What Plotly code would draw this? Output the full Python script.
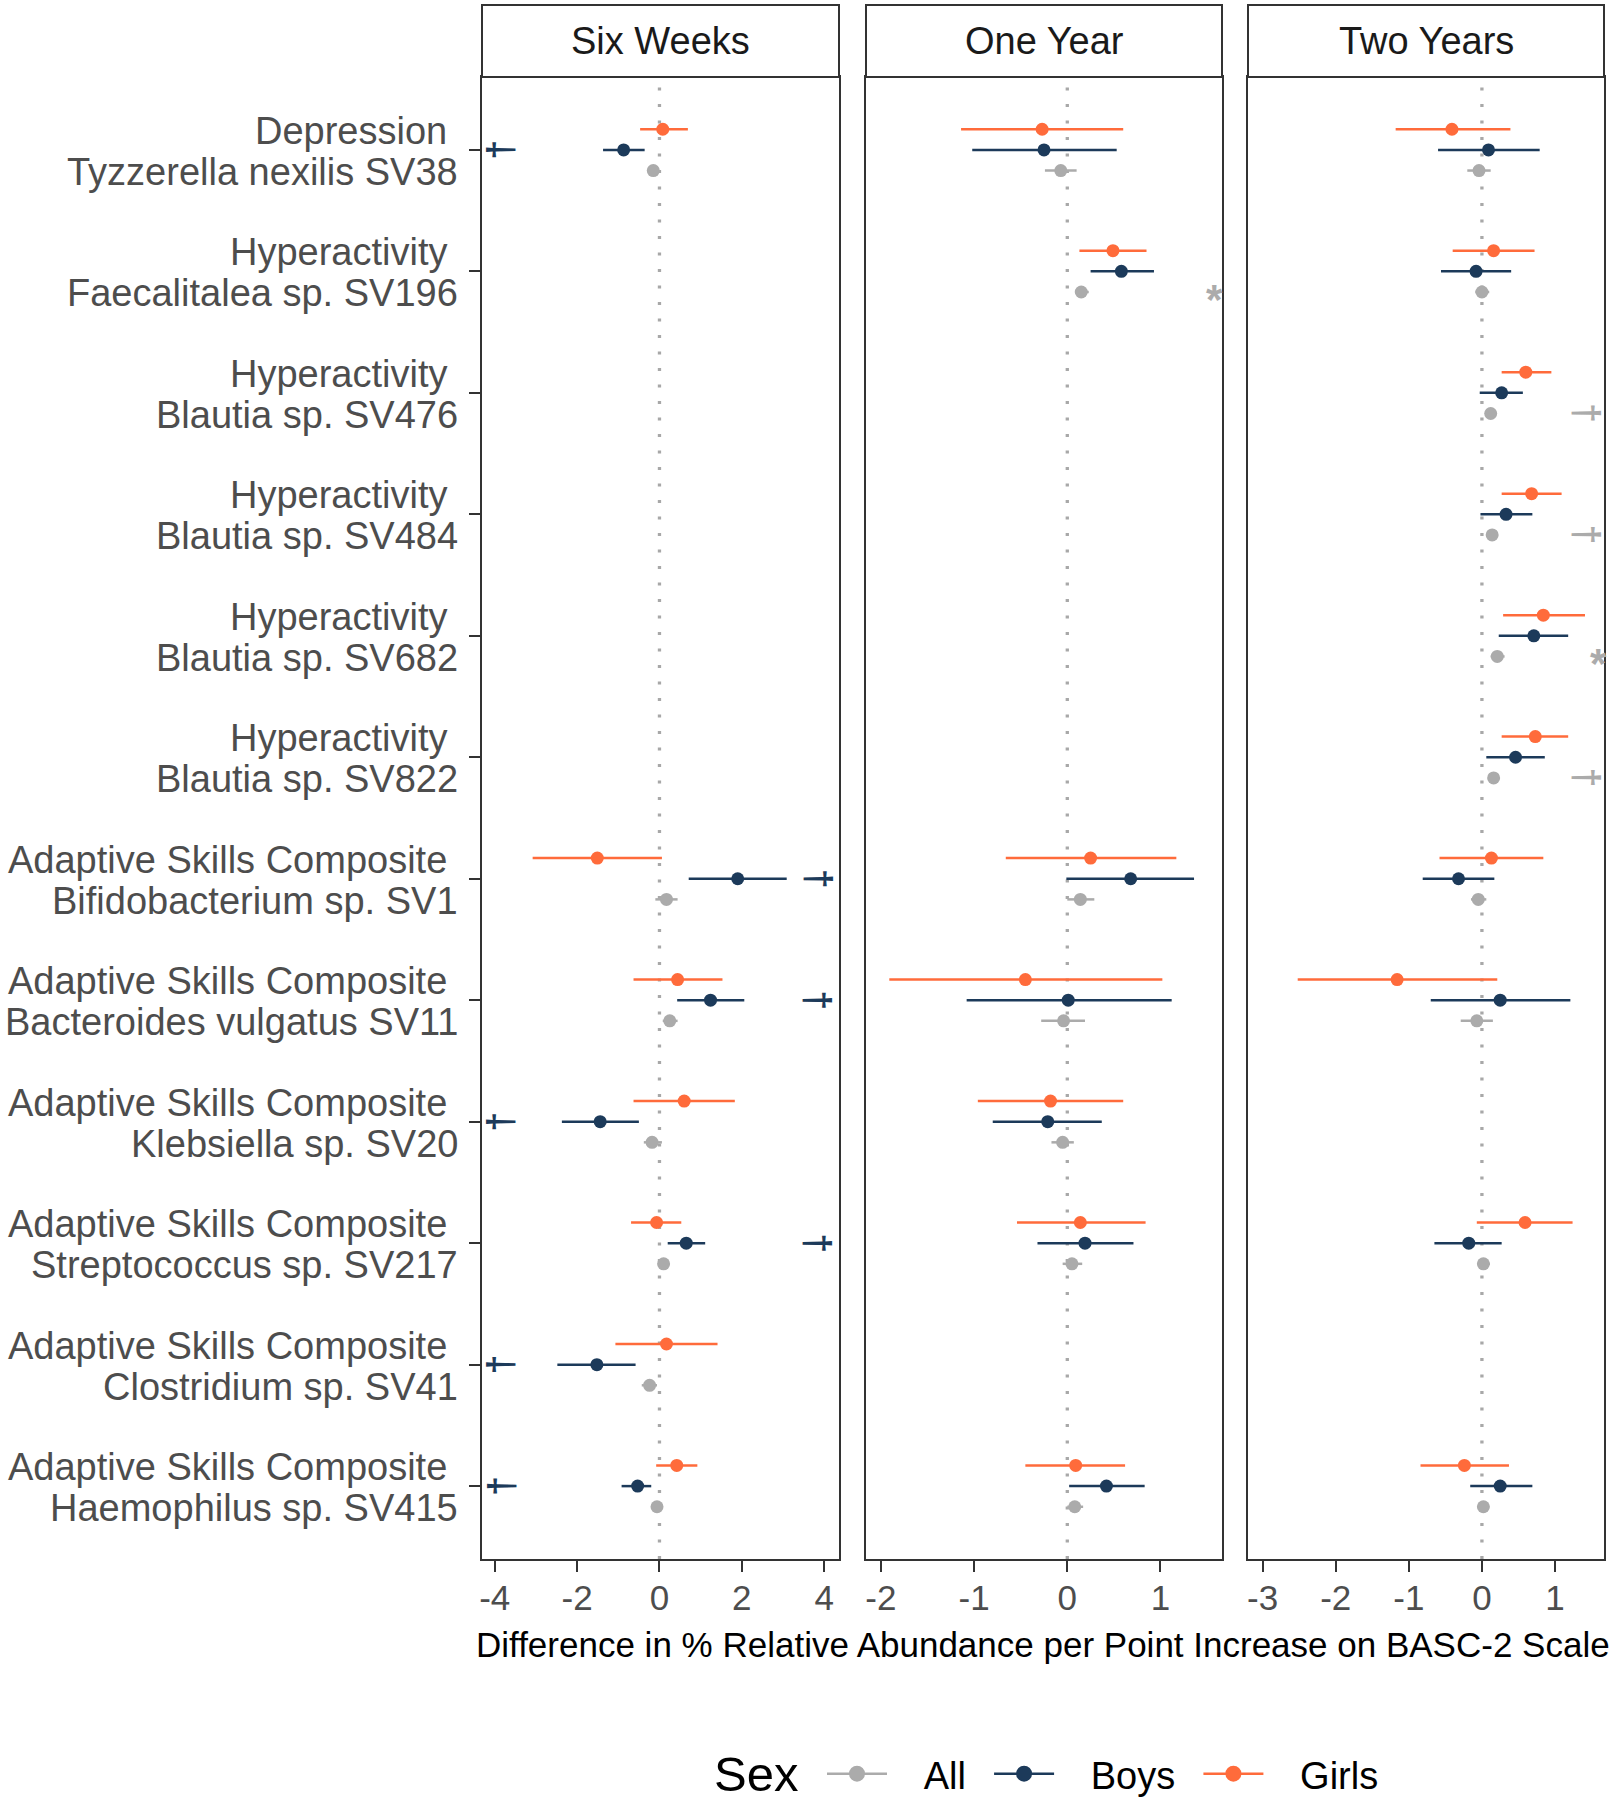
import plotly.graph_objects as go

# ---------------- data ----------------
panels = ["Six Weeks", "One Year", "Two Years"]
row_outcome = ["Depression"] + ["Hyperactivity"] * 5 + ["Adaptive Skills Composite"] * 6
row_taxon = [
    "Tyzzerella nexilis SV38",
    "Faecalitalea sp. SV196",
    "Blautia sp. SV476",
    "Blautia sp. SV484",
    "Blautia sp. SV682",
    "Blautia sp. SV822",
    "Bifidobacterium sp. SV1",
    "Bacteroides vulgatus SV11",
    "Klebsiella sp. SV20",
    "Streptococcus sp. SV217",
    "Clostridium sp. SV41",
    "Haemophilus sp. SV415",
]
rows = list(range(1, 13))
N = None

# Six Weeks
sw_girls_est = [0.08, N, N, N, N, N, -1.51, 0.44, 0.60, -0.07, 0.17, 0.42]
sw_girls_lo = [-0.47, N, N, N, N, N, -3.08, -0.63, -0.63, -0.69, -1.07, -0.08]
sw_girls_hi = [0.69, N, N, N, N, N, 0.06, 1.53, 1.83, 0.53, 1.41, 0.92]
sw_boys_est = [-0.87, N, N, N, N, N, 1.90, 1.24, -1.44, 0.65, -1.52, -0.53]
sw_boys_lo = [-1.37, N, N, N, N, N, 0.71, 0.43, -2.37, 0.20, -2.48, -0.92]
sw_boys_hi = [-0.36, N, N, N, N, N, 3.09, 2.06, -0.50, 1.11, -0.58, -0.20]
sw_all_est = [-0.15, N, N, N, N, N, 0.17, 0.25, -0.18, 0.10, -0.24, -0.06]
sw_all_lo = [-0.25, N, N, N, N, N, -0.10, 0.08, -0.38, 0.02, -0.43, -0.12]
sw_all_hi = [-0.05, N, N, N, N, N, 0.44, 0.44, 0.06, 0.18, -0.06, 0.00]

# One Year
oy_girls_est = [-0.27, 0.49, N, N, N, N, 0.25, -0.45, -0.18, 0.14, N, 0.09]
oy_girls_lo = [-1.14, 0.13, N, N, N, N, -0.66, -1.91, -0.96, -0.54, N, -0.45]
oy_girls_hi = [0.60, 0.85, N, N, N, N, 1.17, 1.02, 0.60, 0.84, N, 0.62]
oy_boys_est = [-0.25, 0.58, N, N, N, N, 0.68, 0.01, -0.21, 0.19, N, 0.42]
oy_boys_lo = [-1.02, 0.25, N, N, N, N, -0.01, -1.08, -0.80, -0.32, N, 0.02]
oy_boys_hi = [0.53, 0.93, N, N, N, N, 1.36, 1.12, 0.37, 0.71, N, 0.83]
oy_all_est = [-0.07, 0.15, N, N, N, N, 0.14, -0.04, -0.05, 0.05, N, 0.08]
oy_all_lo = [-0.24, 0.10, N, N, N, N, 0.00, -0.28, -0.17, -0.05, N, 0.00]
oy_all_hi = [0.10, 0.23, N, N, N, N, 0.29, 0.19, 0.07, 0.16, N, 0.17]

# Two Years
ty_girls_est = [-0.41, 0.16, 0.60, 0.68, 0.84, 0.73, 0.13, -1.16, N, 0.59, N, -0.24]
ty_girls_lo = [-1.18, -0.40, 0.27, 0.27, 0.29, 0.27, -0.58, -2.52, N, -0.07, N, -0.84]
ty_girls_hi = [0.39, 0.72, 0.95, 1.09, 1.41, 1.18, 0.84, 0.21, N, 1.24, N, 0.37]
ty_boys_est = [0.09, -0.08, 0.27, 0.33, 0.71, 0.46, -0.32, 0.25, N, -0.18, N, 0.25]
ty_boys_lo = [-0.60, -0.56, -0.03, -0.02, 0.23, 0.06, -0.81, -0.70, N, -0.65, N, -0.16]
ty_boys_hi = [0.79, 0.40, 0.56, 0.69, 1.18, 0.86, 0.17, 1.21, N, 0.27, N, 0.69]
ty_all_est = [-0.04, 0.00, 0.12, 0.14, 0.21, 0.16, -0.05, -0.07, N, 0.02, N, 0.02]
ty_all_lo = [-0.20, -0.09, 0.06, 0.08, 0.12, 0.10, -0.15, -0.29, N, -0.06, N, -0.06]
ty_all_hi = [0.12, 0.10, 0.18, 0.20, 0.31, 0.22, 0.06, 0.15, N, 0.11, N, 0.10]

# significance markers
sig_panel = [0, 0, 0, 0, 0, 0, 0, 1, 2, 2, 2, 2]
sig_row = [1, 7, 8, 9, 10, 11, 12, 2, 3, 4, 5, 6]
sig_sex = ["Boys"] * 7 + ["All"] * 5
sig_symbol = ["\u2020"] * 7 + ["*", "\u2020", "\u2020", "*", "\u2020"]
sig_x = [-3.85, 3.85, 3.85, -3.85, 3.85, -3.85, -3.85, 1.58, 1.43, 1.43, 1.59, 1.43]

x_ranges = [[-4.31, 4.36], [-2.16, 1.66], [-3.2, 1.67]]
x_ticks = [[-4, -2, 0, 2, 4], [-2, -1, 0, 1], [-3, -2, -1, 0, 1]]

# ---------------- style ----------------
sexes = ["All", "Boys", "Girls"]
colors = {"All": "#ABABAB", "Boys": "#1C3A5A", "Girls": "#FF6B3B"}
offsets = {"Girls": -0.17, "Boys": 0.0, "All": 0.17}
FONT = "Liberation Sans, Arial, sans-serif"
NB = "\u00a0"

data = {
    0: {"Girls": (sw_girls_est, sw_girls_lo, sw_girls_hi),
        "Boys": (sw_boys_est, sw_boys_lo, sw_boys_hi),
        "All": (sw_all_est, sw_all_lo, sw_all_hi)},
    1: {"Girls": (oy_girls_est, oy_girls_lo, oy_girls_hi),
        "Boys": (oy_boys_est, oy_boys_lo, oy_boys_hi),
        "All": (oy_all_est, oy_all_lo, oy_all_hi)},
    2: {"Girls": (ty_girls_est, ty_girls_lo, ty_girls_hi),
        "Boys": (ty_boys_est, ty_boys_lo, ty_boys_hi),
        "All": (ty_all_est, ty_all_lo, ty_all_hi)},
}

W, H = 1612, 1800
x_doms = [[482 / W, 839 / W], [866 / W, 1222 / W], [1248 / W, 1604 / W]]
y_dom = [(H - 1559) / H, (H - 77) / H]
strip_top = (H - 5) / H

fig = go.Figure()

for p in range(3):
    xa = "x" if p == 0 else f"x{p+1}"
    ya = "y" if p == 0 else f"y{p+1}"
    for sex in ["Girls", "Boys", "All"]:
        est, lo, hi = data[p][sex]
        xs, ys, ep, em = [], [], [], []
        for r, e, l, h in zip(rows, est, lo, hi):
            if e is None:
                continue
            xs.append(e)
            ys.append(r + offsets[sex])
            ep.append(h - e)
            em.append(e - l)
        fig.add_trace(go.Scatter(
            x=xs, y=ys, mode="markers", xaxis=xa, yaxis=ya,
            marker=dict(color=colors[sex], size=13),
            error_x=dict(type="data", symmetric=False, array=ep, arrayminus=em,
                         color=colors[sex], thickness=2.5, width=0),
            showlegend=False, hoverinfo="x+y"))

# legend entries
for sex in sexes:
    fig.add_trace(go.Scatter(
        x=[None], y=[None], mode="lines+markers", name=NB * 3 + sex + NB + "\u2009",
        line=dict(color=colors[sex], width=2.5),
        marker=dict(color=colors[sex], size=16), showlegend=True))

shapes = []
annotations = []
for p in range(3):
    xa = "x" if p == 0 else f"x{p+1}"
    ya = "y" if p == 0 else f"y{p+1}"
    shapes.append(dict(type="line", xref=xa, yref=f"{ya} domain", x0=0, x1=0, y0=0, y1=1,
                       line=dict(color="#A8A8A8", width=3.3, dash="3px,13.5px"), layer="below"))
    shapes.append(dict(type="rect", xref=f"{xa} domain", yref="paper", x0=0, x1=1,
                       y0=y_dom[1], y1=strip_top, fillcolor="white",
                       line=dict(color="#333333", width=2)))
    annotations.append(dict(text=panels[p], xref=f"{xa} domain", yref="paper",
                            x=0.5, y=(y_dom[1] + strip_top) / 2, showarrow=False,
                            xanchor="center", yanchor="middle",
                            font=dict(family=FONT, size=38, color="#1A1A1A")))

# row labels (two lines each)
for r, o, t in zip(rows, row_outcome, row_taxon):
    annotations.append(dict(text=o + NB, xref="paper", yref="y", x=460 / W, y=r,
                            xanchor="right", yanchor="middle", yshift=19, showarrow=False,
                            font=dict(family=FONT, size=38, color="#4D4D4D")))
    annotations.append(dict(text=t, xref="paper", yref="y", x=460 / W, y=r,
                            xanchor="right", yanchor="middle", yshift=-22, showarrow=False,
                            font=dict(family=FONT, size=38, color="#4D4D4D")))

for pn, r, sex, sym, xv in zip(sig_panel, sig_row, sig_sex, sig_symbol, sig_x):
    xa = "x" if pn == 0 else f"x{pn+1}"
    ya = "y" if pn == 0 else f"y{pn+1}"
    if sym == "*":
        annotations.append(dict(text="<b>*</b>", xref=xa, yref=ya, x=xv, y=r + offsets[sex],
                                showarrow=False, xanchor="center", yanchor="middle",
                                yshift=-7,
                                font=dict(family=FONT, size=42, color=colors[sex])))
    else:
        annotations.append(dict(text="<b>" + sym + "</b>", xref=xa, yref=ya, x=xv, y=r + offsets[sex],
                                showarrow=False, xanchor="center", yanchor="middle",
                                textangle=90 if xv > 0 else -90,
                                font=dict(family=FONT, size=36, color=colors[sex])))

# axis title
annotations.append(dict(text="Difference in % Relative Abundance per Point Increase on BASC-2 Scale",
                        xref="paper", yref="paper", x=1043 / W, y=(H - 1644) / H,
                        showarrow=False, xanchor="center", yanchor="middle",
                        font=dict(family=FONT, size=35, color="black")))
# legend title
annotations.append(dict(text="Sex", xref="paper", yref="paper", x=800 / W, y=(H - 1774) / H,
                        showarrow=False, xanchor="right", yanchor="middle",
                        font=dict(family=FONT, size=49, color="black")))

layout = dict(
    width=W, height=H,
    template="none",
    margin=dict(l=0, r=0, t=0, b=0, autoexpand=False),
    paper_bgcolor="white", plot_bgcolor="white",
    font=dict(family=FONT, color="#4D4D4D"),
    shapes=shapes, annotations=annotations,
    showlegend=True,
    legend=dict(orientation="h", x=1112 / W, y=(H - 1774) / H, xanchor="center", yanchor="middle",
                font=dict(family=FONT, size=38, color="black"),
                itemwidth=60, bgcolor="rgba(0,0,0,0)"),
)

for p in range(3):
    xkey = "xaxis" if p == 0 else f"xaxis{p+1}"
    ykey = "yaxis" if p == 0 else f"yaxis{p+1}"
    ya = "y" if p == 0 else f"y{p+1}"
    xa = "x" if p == 0 else f"x{p+1}"
    layout[xkey] = dict(domain=x_doms[p], anchor=ya, range=x_ranges[p], automargin=False,
                        tickvals=x_ticks[p], ticktext=[str(t) for t in x_ticks[p]],
                        showgrid=False, zeroline=False, showline=True, mirror=True,
                        linecolor="#333333", linewidth=2, ticks="outside", ticklen=11,
                        tickwidth=2, tickcolor="#333333", ticklabelstandoff=-4,
                        tickfont=dict(family=FONT, size=35, color="#4D4D4D"))
    ydict = dict(domain=y_dom, anchor=xa, range=[12.6, 0.4], autorange=False, automargin=False,
                 showgrid=False, zeroline=False, showline=True, mirror=True,
                 linecolor="#333333", linewidth=2)
    if p == 0:
        ydict.update(tickvals=rows, showticklabels=False, ticks="outside", ticklen=11,
                     tickwidth=2, tickcolor="#333333")
    else:
        ydict.update(matches="y", showticklabels=False, ticks="")
    layout[ykey] = ydict

fig.update_layout(**layout)
fig.write_html("out.html", config={"displayModeBar": False},
               post_script="document.body.style.margin='0';document.body.style.padding='0';")
